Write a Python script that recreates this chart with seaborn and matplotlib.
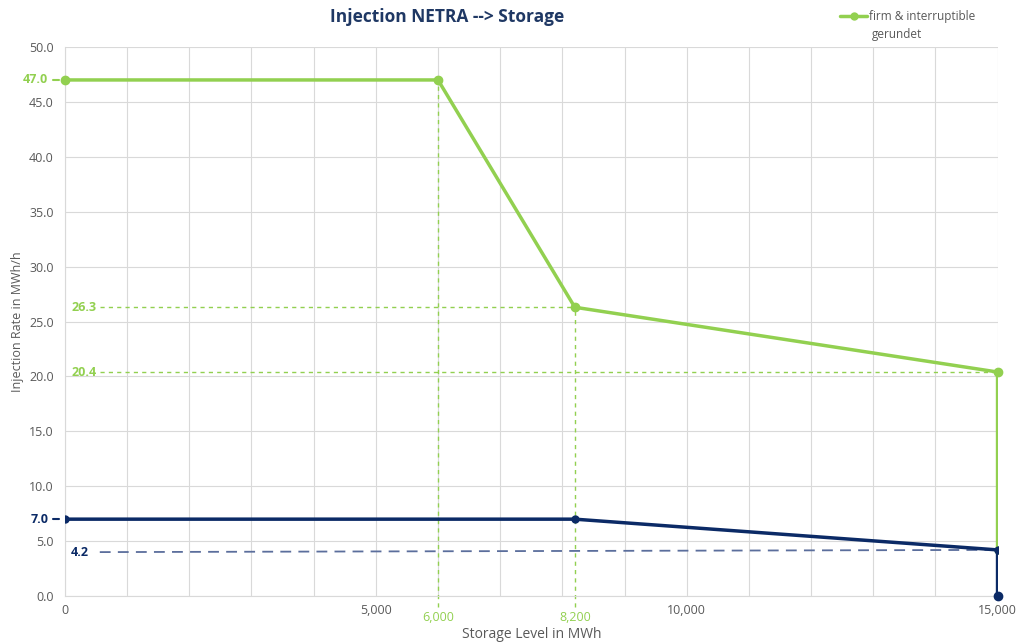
import matplotlib
matplotlib.use("Agg")
import matplotlib.pyplot as plt
import seaborn as sns
import pandas as pd

# firm & interruptible (rounded) curve
green_level = [0, 6000, 8200, 15000, 15000]
green_rate = [47.0, 47.0, 26.3, 20.4, 4.2]
green_pts_level = [0, 6000, 8200, 15000]
green_pts_rate = [47.0, 47.0, 26.3, 20.4]

# firm curve
blue_level = [0, 8200, 15000, 15000]
blue_rate = [7.0, 7.0, 4.2, 0.0]

# reference dashed lines
blue_ref_level = [560, 15000]
blue_ref_rate = [4.0, 4.2]
green_ref_levels = [6000, 8200]
green_ref_rates = [26.3, 20.4]
green_ref_ends = [8200, 15000]

y_ticks = [0, 5, 10, 15, 20, 25, 30, 35, 40, 45, 50]
x_ticks = [0, 5000, 10000, 15000]

GREEN = "#92D050"
NAVY = "#0B2A66"
NAVY_LIGHT = "#5B6E9C"
GRAY = "#595959"

sns.set_style("white")
plt.rcParams['font.family'] = ['Open Sans', 'DejaVu Sans']

fig = plt.figure(figsize=(10.2, 6.44), dpi=100)
ax = fig.add_axes([0.0637, 0.0745, 0.9143, 0.8525])

green_df = pd.DataFrame({"level": green_level, "rate": green_rate})
blue_df = pd.DataFrame({"level": blue_level, "rate": blue_rate})

# dashed guide lines
ax.plot(blue_ref_level, blue_ref_rate, color=NAVY_LIGHT, lw=1.3, ls=(0, (6, 4)), zorder=2)
for lv, r in zip(green_ref_levels, [47.0, 26.3]):
    ax.plot([lv, lv], [-1.0, r], color=GREEN, lw=1, ls=(0, (3, 3)), zorder=2, clip_on=False)
for r, end in zip(green_ref_rates, green_ref_ends):
    ax.plot([560, end], [r, r], color=GREEN, lw=1, ls=(0, (3, 3)), zorder=2)

sns.lineplot(data=green_df, x="level", y="rate", sort=False, estimator=None, color=GREEN,
             lw=2.5, ax=ax, zorder=3, label="firm & interruptible", marker="o",
             markersize=6, markeredgewidth=0)
sns.lineplot(data=blue_df, x="level", y="rate", sort=False, estimator=None, color=NAVY,
             lw=2.5, ax=ax, zorder=4, marker="o", markersize=6, markeredgewidth=0)
ax.plot(green_pts_level, green_pts_rate, "o", color=GREEN, ms=6, zorder=5, clip_on=False)
ax.plot(blue_level[-1:], blue_rate[-1:], "o", color=NAVY, ms=6, zorder=5, clip_on=False)

ax.set_xlim(0, 15000)
ax.set_ylim(0, 50)
ax.set_yticks(y_ticks)
ax.set_yticklabels([f"{v:.1f}" for v in y_ticks])
ax.set_xticks(x_ticks)
ax.set_xticklabels([f"{v:,}" for v in x_ticks])
ax.set_xticks(range(0, 15001, 1000), minor=True)
ax.tick_params(axis="both", which="both", length=0, labelsize=9, colors=GRAY, pad=6)
ax.tick_params(axis="y", pad=8)
ax.grid(True, which="both", color="#D9D9D9", lw=0.8)
ax.set_axisbelow(True)
for side in ["top", "right"]:
    ax.spines[side].set_visible(False)
for side in ["left", "bottom"]:
    ax.spines[side].set_color("#D9D9D9")

# green extra x labels
for lv in green_ref_levels:
    ax.text(lv, -1.4, f"{lv:,}", color=GREEN, fontsize=9, ha="center", va="top")

# value labels left of the axis, with a short leader dash
for r, col in [(47.0, GREEN), (7.0, NAVY)]:
    ax.text(-270, r, f"{r:.1f}", color=col, fontsize=9, fontweight="bold", ha="right", va="center")
    ax.plot([-200, -90], [r, r], color=col, lw=1.5, clip_on=False, zorder=6)
ax.text(100, 26.3, "26.3", color=GREEN, fontsize=9, fontweight="bold", ha="left", va="center")
ax.text(100, 20.4, "20.4", color=GREEN, fontsize=9, fontweight="bold", ha="left", va="center")
ax.text(100, 4.0, "4.2", color=NAVY, fontsize=9, fontweight="bold", ha="left", va="center")

ax.set_xlabel("Storage Level in MWh", color=GRAY, fontsize=10, labelpad=7)
ax.set_ylabel("Injection Rate in MWh/h", color=GRAY, fontsize=9, labelpad=4)
fig.text(0.438, 0.973, "Injection NETRA --> Storage", color="#1F3864", fontsize=12.5,
         fontweight="bold", ha="center", va="center")

leg = ax.legend(loc="center left", bbox_to_anchor=(0.826, 1.055), frameon=False, fontsize=8.5,
                handlelength=2.3, handletextpad=0.15, borderaxespad=0)
for t in leg.get_texts():
    t.set_color(GRAY)
fig.text(0.855, 0.946, "gerundet", color=GRAY, fontsize=8.5, ha="left", va="center")

fig.savefig("out.png", dpi=100)
